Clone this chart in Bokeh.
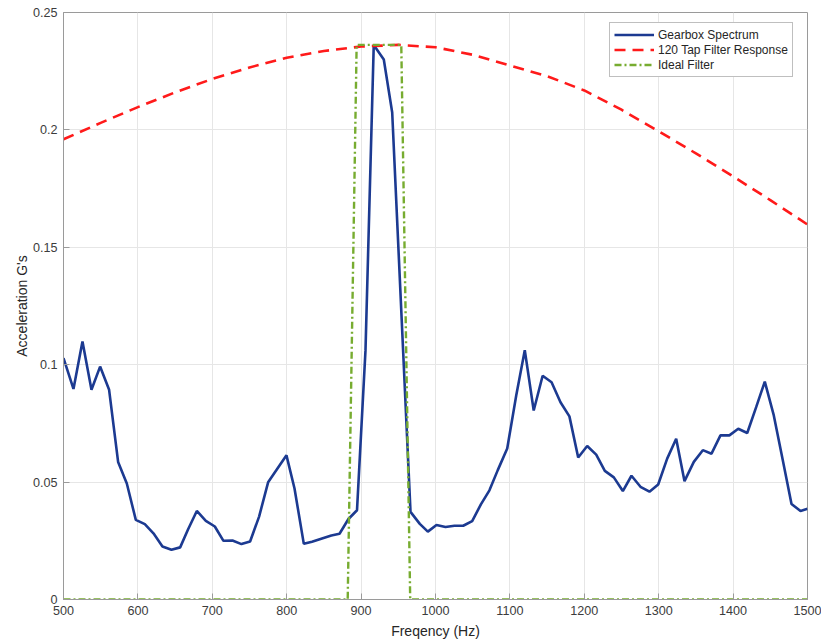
from bokeh.plotting import figure
from bokeh.models import (Range1d, FixedTicker, CustomJSTickFormatter,
                          Legend, LegendItem)
from bokeh.embed import file_html
from bokeh.resources import INLINE

# Gearbox acceleration spectrum (Hz, G)
spec_freq = [500, 513.4, 525.5, 537.6, 549.2, 561.3, 573.4, 585.1, 597.2, 609.3,
             620.9, 633, 645.1, 656.8, 667.5, 679.2, 691.3, 703.4, 715, 727.1,
             739.2, 750.8, 762.9, 775, 787.6, 799.7, 810.5, 823, 834, 845.4,
             860, 871, 883, 894.5, 905.9, 917, 930.5, 941.8, 966.4, 978.9,
             989.7, 1001.3, 1013.4, 1025.5, 1037.2, 1049.3, 1061, 1072.5, 1083.7, 1096.4,
             1108.5, 1120, 1132, 1144, 1156, 1168, 1180, 1191.8, 1203.9, 1216,
             1227.6, 1239.7, 1251.8, 1263.4, 1275.5, 1287.6, 1299.3, 1311.4, 1323.5, 1334.7,
             1347.2, 1359.3, 1371, 1383, 1395, 1406.9, 1419, 1431, 1442.6, 1454.7,
             1466.8, 1478.5, 1490.6, 1500]
spec_amp = [0.1028, 0.0897, 0.1099, 0.0893, 0.0992, 0.0893, 0.0586, 0.0494, 0.0339, 0.0321,
            0.0282, 0.0226, 0.0212, 0.0222, 0.0299, 0.0377, 0.0335, 0.0311, 0.0250, 0.0251,
            0.0236, 0.0247, 0.0353, 0.0499, 0.0558, 0.0614, 0.0473, 0.0237, 0.0246, 0.0258,
            0.0273, 0.0280, 0.0343, 0.0380, 0.1061, 0.2362, 0.2300, 0.2074, 0.0373, 0.0322,
            0.0289, 0.0317, 0.0309, 0.0314, 0.0314, 0.0334, 0.0405, 0.0465, 0.0551, 0.0643,
            0.0869, 0.1062, 0.0805, 0.0953, 0.0925, 0.0840, 0.0780, 0.0605, 0.0654, 0.0617,
            0.0548, 0.0520, 0.0462, 0.0527, 0.0480, 0.0459, 0.0490, 0.0600, 0.0685, 0.0504,
            0.0586, 0.0636, 0.0621, 0.0699, 0.0699, 0.0727, 0.0709, 0.0819, 0.0928, 0.0784,
            0.0593, 0.0407, 0.0377, 0.0386]

# 120-tap FIR magnitude response, scaled to the spectrum peak
fir_freq = [500, 550, 600, 650, 700, 750, 800, 850, 900, 950, 1000,
            1050, 1100, 1150, 1200, 1250, 1300, 1350, 1400, 1450, 1500]
fir_gain = [0.1960, 0.2030, 0.2097, 0.2160, 0.2217, 0.2266, 0.2307, 0.2336, 0.2355, 0.2362, 0.2352,
            0.2320, 0.2274, 0.2229, 0.2168, 0.2086, 0.1994, 0.1900, 0.1802, 0.1701, 0.1597]

# Ideal band-pass filter
ideal_freq = [500, 882, 894, 954, 966, 1500]
ideal_gain = [0, 0, 0.2362, 0.2362, 0, 0]

x_ticks = [500, 600, 700, 800, 900, 1000, 1100, 1200, 1300, 1400, 1500]
y_ticks = [0, 0.05, 0.1, 0.15, 0.2, 0.25]

FONT = "Liberation Sans"
AXIS_GRAY = "#9a9a9a"
TEXT = "#3c3c3c"

p = figure(width=821, height=641, output_backend="svg", toolbar_location=None,
           x_range=Range1d(500, 1500), y_range=Range1d(0, 0.25),
           min_border_left=63, min_border_right=14, min_border_top=12, min_border_bottom=42,
           outline_line_color=AXIS_GRAY, outline_line_width=1,
           background_fill_color="white", border_fill_color="white")

p.xgrid.ticker = FixedTicker(ticks=x_ticks)
p.ygrid.ticker = FixedTicker(ticks=y_ticks)
for g in (p.xgrid, p.ygrid):
    g.grid_line_color = "#e6e6e6"
    g.grid_line_width = 1

p.xaxis.ticker = FixedTicker(ticks=x_ticks)
p.yaxis.ticker = FixedTicker(ticks=y_ticks)
p.yaxis.formatter = CustomJSTickFormatter(code="return String(Math.round(tick * 100) / 100);")

for ax in list(p.xaxis) + list(p.yaxis):
    ax.axis_line_color = AXIS_GRAY
    ax.axis_line_width = 1
    ax.major_tick_line_color = AXIS_GRAY
    ax.major_tick_in = 6
    ax.major_tick_out = 0
    ax.minor_tick_line_color = None
    ax.major_label_text_font = FONT
    ax.major_label_text_font_size = "12.6px"
    ax.major_label_text_color = TEXT
    ax.axis_label_text_font = FONT
    ax.axis_label_text_font_size = "14px"
    ax.axis_label_text_font_style = "normal"
    ax.axis_label_text_color = "#262626"

p.xaxis.axis_label = "Freqency (Hz)"
p.xaxis.major_label_standoff = 6
p.xaxis.axis_label_standoff = 5
p.yaxis.axis_label = "Acceleration G's"
p.yaxis.major_label_standoff = 6
p.yaxis.axis_label_standoff = 0

r_spec = p.line(spec_freq, spec_amp, line_color="#1c3a91", line_width=2.6)
r_fir = p.line(fir_freq, fir_gain, line_color="#ff1a1a", line_width=2.6, line_dash="11 7")
r_ideal = p.line(ideal_freq, ideal_gain, line_color="#77ac30", line_width=2.4,
                 line_dash="7 3 2 3")

legend = Legend(items=[LegendItem(label="Gearbox Spectrum", renderers=[r_spec]),
                       LegendItem(label="120 Tap Filter Response", renderers=[r_fir]),
                       LegendItem(label="Ideal Filter", renderers=[r_ideal])],
                location=(546, 522), orientation="vertical",
                padding=4, spacing=0, margin=0,
                glyph_width=40, glyph_height=15, label_height=15, label_standoff=4,
                label_text_font=FONT, label_text_font_size="12px", label_text_color="#262626",
                border_line_color="#808080", border_line_width=1,
                background_fill_color="white", background_fill_alpha=1)
p.add_layout(legend, "center")

open("out.html", "w").write(file_html(p, INLINE))
